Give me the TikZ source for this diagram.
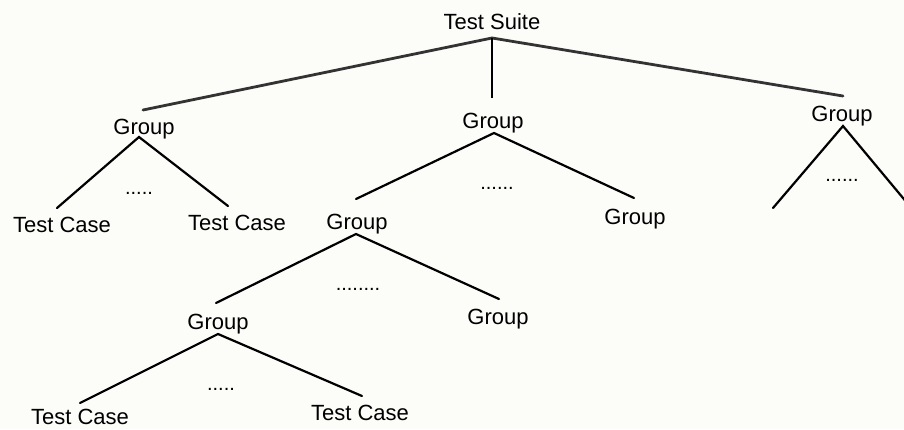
\documentclass[tikz,border=0pt]{standalone}
\usepackage{fontspec}
\setmainfont{Liberation Sans}
\begin{document}
\begin{tikzpicture}[x=1pt,y=-1pt,
  lbl/.style={anchor=base,inner sep=0pt,font=\fontsize{22}{26}\selectfont},
  dotlbl/.style={anchor=base,inner sep=0pt,font=\fontsize{20}{24}\selectfont},
  edge/.style={draw=black,line width=2.2pt,line cap=round},
  topedge/.style={draw=black!80,line width=2.8pt,line cap=round},
  thinedge/.style={draw=black,line width=1.3pt}]
\useasboundingbox (0,0) rectangle (904,429);
\fill[color={rgb,255:red,252;green,252;blue,249}] (0,0) rectangle (904,429);
\clip (0,0) rectangle (904,429);
% labels
\node[lbl] (TS) at (492,29) {Test Suite};
\node[lbl] (G1) at (144,134) {Group};
\node[lbl] (G2) at (493,128) {Group};
\node[lbl] (G3) at (842,121) {Group};
\node[lbl] (TC1) at (62,232) {Test Case};
\node[lbl] (TC2) at (237,230) {Test Case};
\node[lbl] (G21) at (357,229) {Group};
\node[lbl] (G22) at (635,224) {Group};
\node[lbl] (G211) at (218,329) {Group};
\node[lbl] (G212) at (498,324) {Group};
\node[lbl] (TC3) at (80,424) {Test Case};
\node[lbl] (TC4) at (360,420) {Test Case};
% dots
\node[dotlbl] (D1) at (139,194) {.....};
\node[dotlbl] (D2) at (497,189) {......};
\node[dotlbl] (D3) at (842,181) {......};
\node[dotlbl] (D4) at (358,290) {........};
\node[dotlbl] (D5) at (221,390) {.....};
% connector end points
\coordinate (tsA) at (492,38);
\coordinate (g1T) at (143,110);
\coordinate (g2T) at (492,98);
\coordinate (g3T) at (843,96);
\coordinate (g1A) at (139,137);
\coordinate (tc1T) at (57,208);
\coordinate (tc2T) at (228,206);
\coordinate (g2A) at (494,133);
\coordinate (g21T) at (356,199);
\coordinate (g22T) at (634,198);
\coordinate (g3A) at (843,126);
\coordinate (g3L) at (773,208);
\coordinate (g3R) at (913,210);
\coordinate (g21A) at (356,234);
\coordinate (g211T) at (216,303);
\coordinate (g212T) at (499,299);
\coordinate (g211A) at (218,334);
\coordinate (tc3T) at (80,403);
\coordinate (tc4T) at (362,396);
% connectors
\draw[topedge] (tsA) -- (g1T);
\draw[topedge] (tsA) -- (g3T);
\draw[thinedge] (tsA) -- (g2T);
\draw[edge] (tc1T) -- (g1A) -- (tc2T);
\draw[edge] (g21T) -- (g2A) -- (g22T);
\draw[edge] (g3L) -- (g3A) -- (g3R);
\draw[edge] (g211T) -- (g21A) -- (g212T);
\draw[edge] (tc3T) -- (g211A) -- (tc4T);
\end{tikzpicture}
\end{document}
